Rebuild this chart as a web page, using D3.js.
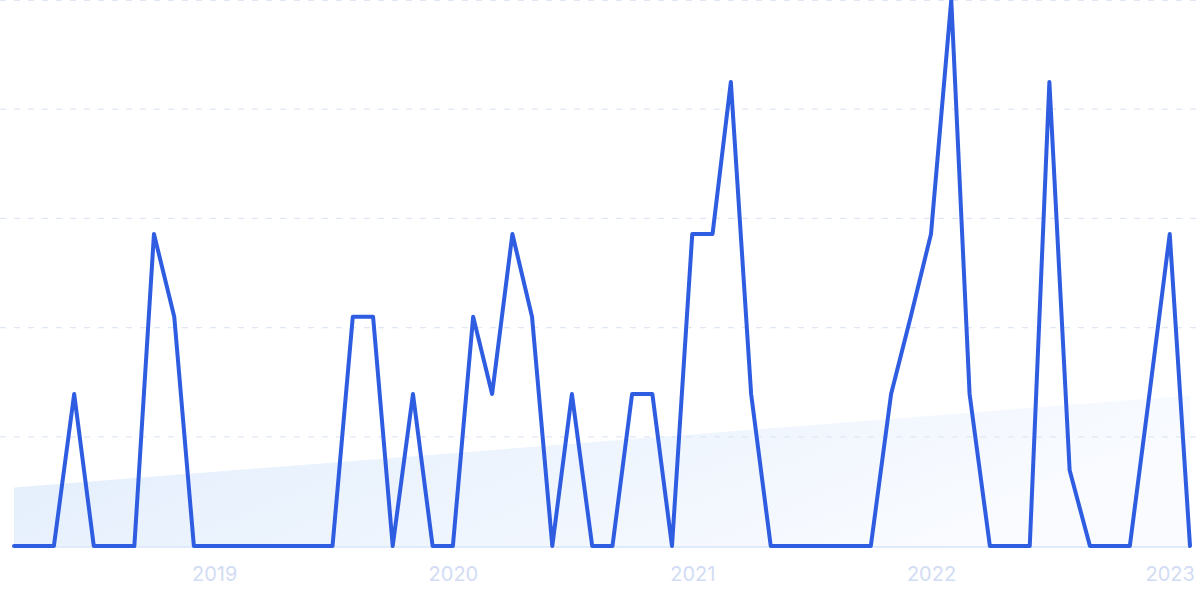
<!DOCTYPE html>
<html>
<head>
<meta charset="utf-8">
<script src="https://cdn.jsdelivr.net/npm/d3@7/dist/d3.min.js"></script>
<style>
  html, body { margin: 0; padding: 0; background: #ffffff; }
  svg { display: block; }
</style>
</head>
<body>
<svg id="chart" width="1200" height="599"></svg>
<script>
// Monthly values, March 2018 – February 2023
const startMonth = "2018-03";
const values = [
  0, 0, 0, 1.95, 0, 0, 0, 4, 2.94, 0,                   // 2018 Mar–Dec
  0, 0, 0, 0, 0, 0, 0, 2.94, 2.94, 0, 1.95, 0,          // 2019
  0, 2.94, 1.95, 4, 2.94, 0, 1.95, 0, 0, 1.95, 1.95, 0, // 2020
  4, 4, 5.95, 1.95, 0, 0, 0, 0, 0, 0, 1.95, 2.94,       // 2021
  4, 7, 1.95, 0, 0, 0, 5.95, 0.97, 0, 0, 0, 1.95,       // 2022
  4, 0                                                  // 2023 Jan–Feb
];
const trendValues = [0.75, 1.93]; // trend at first and last month
const yearTicks = ["2019", "2020", "2021", "2022", "2023"];
const yMax = 7;
const gridCount = 5;

const svg = d3.select("#chart");
const W = 1200, H = 599;
const margin = { left: 14, right: 10, top: 0, bottom: 53 };

const parse = d3.timeParse("%Y-%m");
const t0 = parse(startMonth);
const dates = values.map((v, i) => d3.timeMonth.offset(t0, i));
const data = values.map((v, i) => ({ date: dates[i], value: v }));

const x = d3.scaleTime()
  .domain([dates[0], dates[dates.length - 1]])
  .range([margin.left, W - margin.right]);
const y = d3.scaleLinear()
  .domain([0, yMax])
  .range([H - margin.bottom, margin.top]);

// gradient for trend area
const defs = svg.append("defs");
const grad = defs.append("linearGradient")
  .attr("id", "trendGrad")
  .attr("x1", "0%").attr("y1", "0%").attr("x2", "100%").attr("y2", "30%");
grad.append("stop").attr("offset", "0%").attr("stop-color", "#e1edfc");
grad.append("stop").attr("offset", "100%").attr("stop-color", "#f9fbff");

// trend area
const trendData = [
  { date: dates[0], value: trendValues[0] },
  { date: dates[dates.length - 1], value: trendValues[1] }
];
svg.append("path")
  .datum(trendData)
  .attr("fill", "url(#trendGrad)")
  .attr("d", d3.area()
    .x(d => x(d.date))
    .y0(y(0))
    .y1(d => y(d.value)));

// gridlines
const gridVals = d3.range(1, gridCount + 1).map(i => i * yMax / gridCount);
svg.append("g")
  .selectAll("line")
  .data(gridVals)
  .join("line")
  .attr("x1", 0)
  .attr("x2", W)
  .attr("y1", d => Math.max(0.5, y(d)))
  .attr("y2", d => Math.max(0.5, y(d)))
  .attr("stroke", "#dfe7f6")
  .attr("stroke-width", 1.2)
  .attr("stroke-dasharray", "6 8");

// baseline
svg.append("line")
  .attr("x1", margin.left)
  .attr("x2", W - margin.right)
  .attr("y1", y(0) + 1)
  .attr("y2", y(0) + 1)
  .attr("stroke", "#d4e3f8")
  .attr("stroke-width", 1.5);

// x axis labels
const xAxis = d3.axisBottom(x)
  .tickValues(yearTicks.map(s => d3.timeParse("%Y")(s)))
  .tickFormat(d3.timeFormat("%Y"))
  .tickSize(0)
  .tickPadding(0);
const gx = svg.append("g")
  .attr("transform", `translate(0,${y(0)})`)
  .call(xAxis);
gx.select(".domain").remove();
gx.selectAll("text")
  .attr("y", 35)
  .attr("dy", 0)
  .attr("fill", "#d2dcf4")
  .attr("font-family", "Inter, 'Open Sans', sans-serif")
  .attr("font-size", 20);

// main line
svg.append("path")
  .datum(data)
  .attr("fill", "none")
  .attr("stroke", "#2f5de2")
  .attr("stroke-width", 4)
  .attr("stroke-linejoin", "round")
  .attr("stroke-linecap", "round")
  .attr("d", d3.line()
    .x(d => x(d.date))
    .y(d => y(d.value)));
</script>
</body>
</html>
